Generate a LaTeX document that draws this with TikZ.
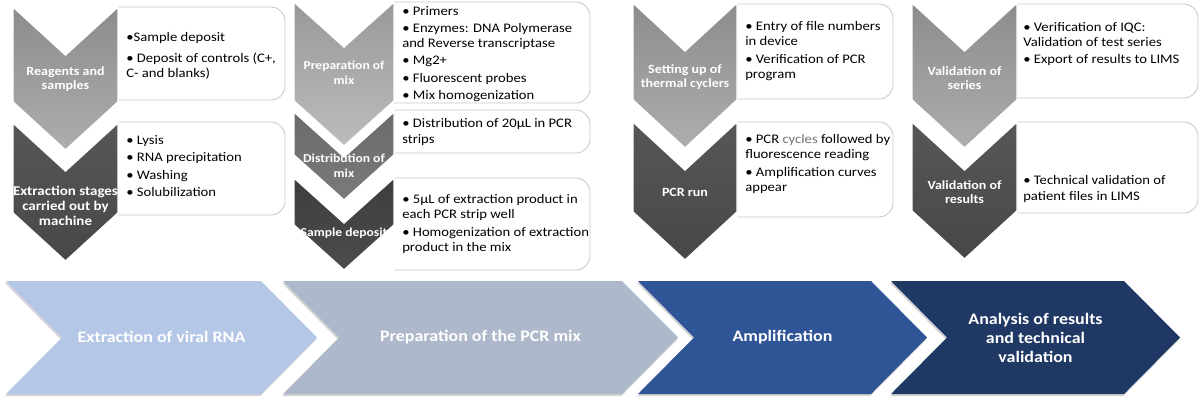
\documentclass[tikz,border=0pt]{standalone}
\usepackage{fontspec}
\setmainfont{Carlito}[FakeStretch=1.12]
\usetikzlibrary{shadows}

\definecolor{boxgray}{HTML}{C9C9C9}
\definecolor{phaseone}{HTML}{B4C7E7}
\definecolor{phasetwo}{HTML}{ADB9CA}
\definecolor{phasethree}{HTML}{2F5597}
\definecolor{phasefour}{HTML}{203864}

\tikzset{
  stepone/.style={top color=black!45, bottom color=black!32},
  steptwo/.style={top color=black!66, bottom color=black!72},
  stepmixa/.style={top color=black!40, bottom color=black!26},
  stepmixb/.style={top color=black!58, bottom color=black!52},
  stepmixc/.style={top color=black!76, bottom color=black!70},
  boxline/.style={draw=boxgray, fill=white, line width=0.6pt},
  boxtext/.style={anchor=west, align=left, inner sep=0pt, font=\fontsize{9.3}{10.8}\selectfont},
  chevlabel/.style={text=white, align=center, inner sep=0pt, font=\bfseries\fontsize{8.9}{10.4}\selectfont},
  phase/.style={drop shadow={shadow xshift=-0.6pt, shadow yshift=-1.5pt, opacity=0.35}},
  phaselabel/.style={text=white, align=center, inner sep=0pt, font=\bfseries\fontsize{11.4}{13.8}\selectfont}
}

% left, top, right, bottom (the left side is hidden by the chevron)
\newcommand{\infobox}[4]{%
  \begin{scope}
    \clip (#1,#2-3) rectangle (#3+3,#4+3);
    \draw[boxline, rounded corners=10pt] (#1-30,#2) rectangle (#3,#4);
  \end{scope}}
% centre x, half width, top, tip, depth, shading
\newcommand{\vchevron}[6]{%
  \shadedraw[#6, draw=white, line width=1pt] (#1-#2,#3) -- (#1,#3+#5) -- (#1+#2,#3)
    -- (#1+#2,#4-#5) -- (#1,#4) -- (#1-#2,#4-#5) -- cycle;}
% left, tip, fill colour
\newcommand{\hchevron}[3]{%
  \filldraw[phase, fill=#3, draw=none] (#1,281) -- (#2-56,281) -- (#2,337.5)
    -- (#2-56,394) -- (#1,394) -- (#1+56,337.5) -- cycle;}

\begin{document}
\begin{tikzpicture}[x=0.025cm, y=-0.025cm]
\useasboundingbox (0,0) rectangle (1200,403);

% detail boxes
\infobox{118}{7}{285}{100}
\infobox{118}{122}{285}{215}
\infobox{394}{2}{590}{103}
\infobox{394}{110}{590}{153}
\infobox{394}{178}{590}{270}
\infobox{737}{4}{893}{99}
\infobox{737}{122}{893}{217}
\infobox{1017}{4}{1198}{98}
\infobox{1017}{122}{1198}{213}

% vertical chevrons
\vchevron{65.5}{52.5}{123}{261}{48}{steptwo}
\vchevron{65.5}{52.5}{7}{150}{48}{stepone}
\vchevron{344}{50}{178}{270}{45}{stepmixc}
\vchevron{344}{50}{112}{200}{45}{stepmixb}
\vchevron{344}{50}{2}{146}{45}{stepmixa}
\vchevron{685}{52}{122}{260}{48}{steptwo}
\vchevron{685}{52}{3}{148}{48}{stepone}
\vchevron{964.5}{52.5}{122}{259}{48}{steptwo}
\vchevron{964.5}{52.5}{3}{148}{48}{stepone}

\node[chevlabel] (reag) at (65.5,79) {Reagents and\\samples};
\node[chevlabel, font=\bfseries\fontsize{9.5}{10.6}\selectfont] (extr) at (65.5,206) {Extraction stages\\carried out by\\machine};
\node[chevlabel, font=\bfseries\fontsize{8.6}{10.4}\selectfont] (prep) at (344,73) {Preparation of\\mix};
\node[chevlabel, font=\bfseries\fontsize{8.6}{10.4}\selectfont] (dist) at (344,166) {Distribution of\\mix};
\node[chevlabel, font=\bfseries\fontsize{8.6}{10.4}\selectfont] (sdep) at (344,233) {Sample deposit};
\node[chevlabel] (setup) at (685,77) {Setting up of\\thermal cyclers};
\node[chevlabel] (pcrrun) at (685,192) {PCR run};
\node[chevlabel] (valser) at (964.5,78) {Validation of\\series};
\node[chevlabel] (valres) at (964.5,192) {Validation of\\results};

\node[boxtext] (reagtxt) at (126,56) {\textbullet Sample deposit\\[4pt]\textbullet\ Deposit of controls (C+,\\C- and blanks)};
\node[boxtext] (extrtxt) at (126,166) {\textbullet\ Lysis\\[1.5pt]\textbullet\ RNA precipitation\\[1.5pt]\textbullet\ Washing\\[1.5pt]\textbullet\ Solubilization};
\node[boxtext] (preptxt) at (402,54) {\textbullet\ Primers\\[1.5pt]\textbullet\ Enzymes: DNA Polymerase\\and Reverse transcriptase\\[1.5pt]\textbullet\ Mg2+\\[1.5pt]\textbullet\ Fluorescent probes\\[1.5pt]\textbullet\ Mix homogenization};
\node[boxtext] (disttxt) at (402,132) {\textbullet\ Distribution of 20µL in PCR\\strips};
\node[boxtext] (sdeptxt) at (402,224) {\textbullet\ 5µL of extraction product in\\each PCR strip well\\[1.5pt]\textbullet\ Homogenization of extraction\\product in the mix};
\node[boxtext] (setuptxt) at (745,51) {\textbullet\ Entry of file numbers\\in device\\[1.5pt]\textbullet\ Verification of PCR\\program};
\node[boxtext] (pcrruntxt) at (745,164) {\textbullet\ PCR \textcolor{black!55}{cycles} followed by\\fluorescence reading\\[1.5pt]\textbullet\ Amplification curves\\appear};
\node[boxtext] (valsertxt) at (1023,44) {\textbullet\ Verification of IQC:\\Validation of test series\\[1.5pt]\textbullet\ Export of results to LIMS};
\node[boxtext] (valrestxt) at (1023,189) {\textbullet\ Technical validation of\\patient files in LIMS};

% main phases
\hchevron{6}{317}{phaseone}
\hchevron{283}{678}{phasetwo}
\hchevron{638}{927}{phasethree}
\hchevron{891}{1180}{phasefour}
\node[phaselabel] (extraction) at (161.5,337) {Extraction of viral RNA};
\node[phaselabel] (pcrmix) at (480.5,337) {Preparation of the PCR mix};
\node[phaselabel] (amplif) at (782.5,337) {Amplification};
\node[phaselabel] (analysis) at (1035.5,338) {Analysis of results\\and technical\\validation};
\end{tikzpicture}
\end{document}
